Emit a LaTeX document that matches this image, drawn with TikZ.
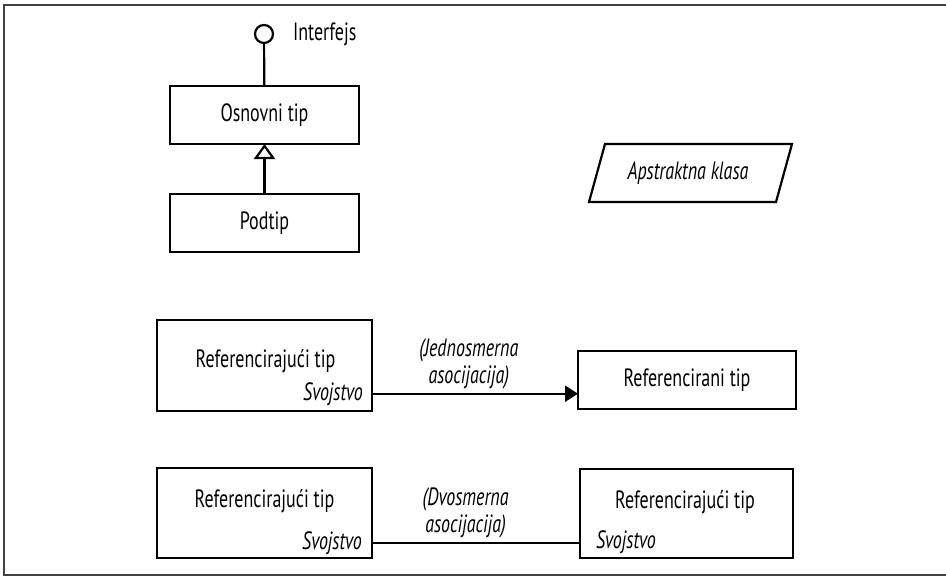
\documentclass[tikz,border=0pt]{standalone}
\usepackage{fontspec}
\setmainfont{PT Sans}[FakeStretch=0.72]
\usepackage{tikz}
\usetikzlibrary{arrows.meta, calc}
\tikzset{>={Triangle[width=16pt,length=13pt]}}
\definecolor{framegray}{gray}{0.25}

\begin{document}
\begin{tikzpicture}[
    x = 1pt, y = -1pt,
    line width = 2.2pt,
    font = \fontsize{25}{27}\selectfont,
    box/.style = {draw, rectangle, inner sep = 0pt, outer sep = 0pt,
        minimum width = #1},
    prop/.style = {inner sep = 0pt, font = \fontsize{25}{27}\selectfont\itshape},
    assoc/.style = {align = center, inner sep = 0pt,
        font = \fontsize{25}{27}\selectfont\itshape}
  ]
  \useasboundingbox (0,0) rectangle (946,576);
  \draw[framegray, line width = 2pt] (946,5) -- (4,5) -- (4,575) -- (946,575);

  % interfejs i nasledjivanje
  \node[draw, circle, minimum size = 18pt, inner sep = 0pt] (iface) at (264,34) {};
  \node[anchor = west, inner sep = 0pt] (ifacelbl) at (292,34) {Interfejs};
  \node[box = 189pt, minimum height = 58pt] (base) at (264.5,115) {Osnovni tip};
  \node[box = 189pt, minimum height = 58pt] (sub) at (264.5,223) {Podtip};
  \draw (iface) -- (base);
  \draw[-{Triangle[open, width = 21pt, length = 15pt]}] (sub) -- (base);

  % apstraktna klasa
  \node[inner sep = 0pt] (abstract) at (688,173) {\itshape Apstraktna klasa};
  \draw (605,144) -- (792,144) -- (776,202) -- (589,202) -- cycle;

  % jednosmerna asocijacija
  \node[box = 215pt, minimum height = 91pt] (refA) at (264.5,365.5) {};
  \node[anchor = base, inner sep = 0pt] (refAname) at (265.5,367) {Referencirajući tip};
  \node[prop, anchor = base east] (refAprop) at ($(refA.south east)+(-8,-11)$) {Svojstvo};
  \node[box = 218pt, minimum height = 58pt] (refd) at (687,380) {Referencirani tip};
  \draw[->] (refAprop.east -| refA.east) -- (refAprop.east -| refd.west)
    node[assoc, pos = 0.47, above = 4pt] (uniLbl) {(Jednosmerna\\asocijacija)};

  % dvosmerna asocijacija
  \node[box = 215pt, minimum height = 90pt] (refB) at (264.5,513) {};
  \node[anchor = base, inner sep = 0pt] (refBname) at (264.5,507) {Referencirajući tip};
  \node[prop, anchor = base east] (refBprop) at ($(refB.south east)+(-9,-9)$) {Svojstvo};
  \node[box = 213pt, minimum height = 89pt] (refC) at (686.5,513.5) {};
  \node[anchor = base, inner sep = 0pt] (refCname) at (685,508) {Referencirajući tip};
  \node[prop, anchor = base west] (refCprop) at ($(refC.south west)+(15,-10)$) {Svojstvo};
  \draw (refBprop.east -| refB.east) -- (refBprop.east -| refC.west)
    node[assoc, pos = 0.45, above = 4pt] (biLbl) {(Dvosmerna\\asocijacija)};
\end{tikzpicture}
\end{document}
